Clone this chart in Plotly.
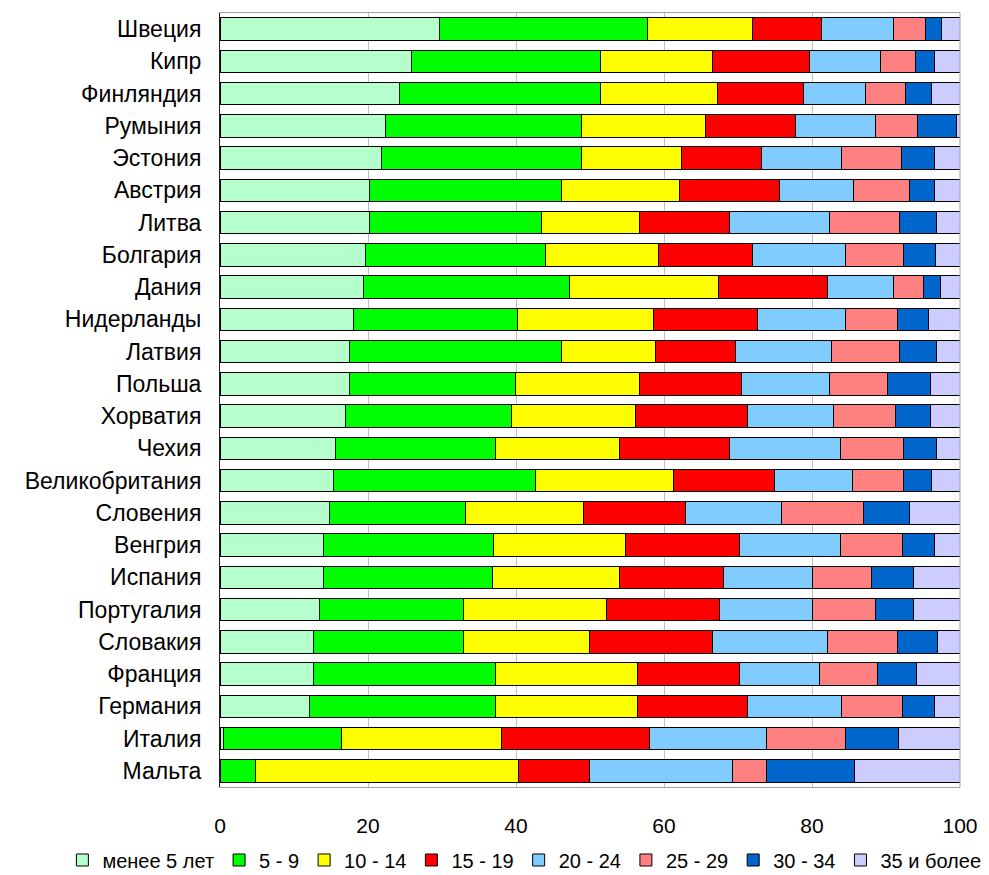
import plotly.graph_objects as go

countries = ["Швеция", "Кипр", "Финляндия", "Румыния", "Эстония", "Австрия", "Литва",
             "Болгария", "Дания", "Нидерланды", "Латвия", "Польша", "Хорватия", "Чехия",
             "Великобритания", "Словения", "Венгрия", "Испания", "Португалия", "Словакия",
             "Франция", "Германия", "Италия", "Мальта"]

series_names = ["менее 5 лет", "5 - 9", "10 - 14", "15 - 19", "20 - 24", "25 - 29", "30 - 34", "35 и более"]

under5 = [29.6, 25.9, 24.2, 22.4, 21.8, 20.2, 20.2, 19.7, 19.4, 18.0, 17.5, 17.5, 16.9, 15.6, 15.4, 14.8, 14.0, 14.0, 13.5, 12.7, 12.7, 12.1, 0.5, 0.0]
s5_9 = [28.2, 25.5, 27.2, 26.4, 27.1, 25.9, 23.3, 24.3, 27.8, 22.2, 28.6, 22.4, 22.5, 21.6, 27.3, 18.4, 23.0, 22.8, 19.4, 20.2, 24.5, 25.1, 15.9, 4.8]
s10_14 = [14.2, 15.2, 15.8, 16.8, 13.5, 16.0, 13.2, 15.3, 20.2, 18.4, 12.7, 16.8, 16.7, 16.8, 18.6, 15.9, 17.8, 17.2, 19.3, 17.0, 19.2, 19.2, 21.6, 35.6]
s15_19 = [9.3, 13.1, 11.7, 12.2, 10.8, 13.5, 12.2, 12.7, 14.7, 14.1, 10.9, 13.8, 15.2, 14.9, 13.6, 13.8, 15.4, 14.1, 15.3, 16.6, 13.8, 14.9, 20.0, 9.5]
s20_24 = [9.7, 9.5, 8.3, 10.8, 10.8, 10.0, 13.4, 12.5, 8.9, 11.8, 12.9, 11.8, 11.6, 14.9, 10.6, 13.0, 13.6, 11.9, 12.5, 15.6, 10.8, 12.7, 15.8, 19.3]
s25_29 = [4.4, 4.8, 5.4, 5.7, 8.1, 7.6, 9.5, 7.9, 4.1, 7.1, 9.2, 7.9, 8.4, 8.6, 6.9, 11.1, 8.4, 8.1, 8.6, 9.5, 7.9, 8.2, 10.7, 4.6]
s30_34 = [2.1, 2.5, 3.6, 5.2, 4.5, 3.4, 5.0, 4.3, 2.2, 4.1, 5.0, 5.8, 4.7, 4.4, 3.8, 6.2, 4.4, 5.6, 5.1, 5.4, 5.2, 4.4, 7.2, 12.0]
s35 = [2.5, 3.5, 3.8, 0.5, 3.4, 3.4, 3.2, 3.3, 2.7, 4.3, 3.2, 4.0, 4.0, 3.2, 3.8, 6.8, 3.4, 6.3, 6.3, 3.0, 5.9, 3.4, 8.3, 14.2]

x_ticks = [0, 20, 40, 60, 80, 100]

colors = ["#b5ffcc", "#00ff00", "#ffff00", "#ff0000", "#80ccff", "#ff8080", "#0066cc", "#ccccff"]

all_series = [under5, s5_9, s10_14, s15_19, s20_24, s25_29, s30_34, s35]

FONT = "Liberation Sans, Arial, sans-serif"

fig = go.Figure()
for name, vals, col in zip(series_names, all_series, colors):
    fig.add_trace(go.Bar(
        y=countries, x=vals, name=name, orientation="h",
        marker=dict(color=col, line=dict(color="#000000", width=1)),
        hovertemplate="%{y}: %{x}<extra>" + name + "</extra>",
    ))

fig.update_layout(
    barmode="stack",
    bargap=0.3,
    width=989, height=875,
    margin=dict(l=220, r=29, t=13, b=88, autoexpand=False),
    paper_bgcolor="white",
    plot_bgcolor="white",
    font=dict(family=FONT, size=21, color="#000000"),
    legend=dict(
        orientation="h",
        traceorder="normal",
        x=-0.213, xanchor="left",
        y=-0.0943, yanchor="middle",
        font=dict(family=FONT, size=20, color="#000000"),
        itemwidth=30,
        tracegroupgap=0,
    ),
    xaxis=dict(
        range=[0, 100],
        tickvals=x_ticks,
        showgrid=True, gridcolor="#c0c0c0", gridwidth=1,
        showline=True, linecolor="#a0a0a0", linewidth=1, mirror=True,
        zeroline=False,
        ticks="",
        ticklabelstandoff=20,
        tickfont=dict(family=FONT, size=21, color="#000000"),
        automargin=False,
        fixedrange=True,
    ),
    yaxis=dict(
        autorange="reversed",
        showgrid=False,
        showline=True, linecolor="#202020", linewidth=1,
        ticks="",
        ticklabelstandoff=13,
        tickfont=dict(family=FONT, size=23, color="#000000"),
        automargin=False,
        fixedrange=True,
    ),
    shapes=[dict(type="line", xref="paper", yref="paper", x0=1, x1=1, y0=0, y1=1,
                 line=dict(color="#a0a0a0", width=1))],
)

fig.write_html("out.html", config={"displayModeBar": False},
               post_script="document.body.style.margin='0';")
